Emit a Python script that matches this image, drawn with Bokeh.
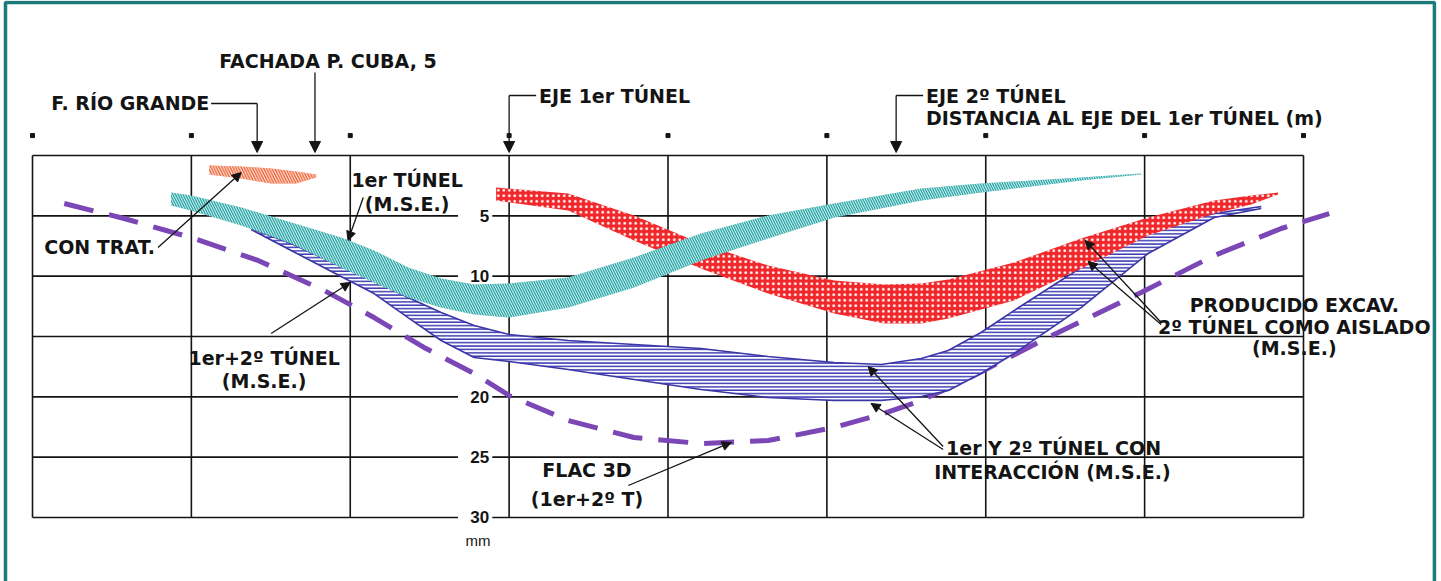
from bokeh.plotting import figure
from bokeh.models import Range1d, Arrow, NormalHead
from bokeh.core.properties import value
from bokeh.embed import file_html
from bokeh.resources import INLINE

# ---------------- data ----------------
# grid: distance to axis of 1st tunnel (m) and settlement (mm)
x_ticks = [-15, -10, -5, 0, 5, 10, 15, 20, 25]
y_ticks = [0, 5, 10, 15, 20, 25, 30]
y_tick_labels = ["", "5", "10", "15", "20", "25", "30"]

# CON TRAT. (treated building, orange)
trat_x = [-9.44, -8.43, -7.49, -6.70, -6.07]
trat_top = [0.83, 0.91, 1.08, 1.33, 1.57]
trat_bot = [1.57, 1.91, 2.32, 2.32, 1.82]

# 1er TUNEL (M.S.E.) teal band
t1_x = [-10.64, -10.01, -8.43, -6.86, -5.29, -4.25, -3.18, -2.14, -1.10, 0.0,
        1.86, 3.93, 6.04, 8.15, 10.23, 12.97, 14.85, 18.00, 19.89]
t1_top = [3.07, 3.31, 4.31, 5.55, 6.80, 7.87, 9.28, 10.19, 10.69, 10.61,
          10.11, 8.45, 6.46, 4.97, 3.98, 2.73, 2.32, 1.82, 1.49]
t1_bot = [4.14, 4.56, 5.80, 7.29, 9.28, 10.52, 11.77, 12.60, 13.18, 13.43,
          12.60, 10.94, 8.70, 6.88, 5.14, 3.73, 3.07, 2.07, 1.57]

# 1er+2o TUNEL / con interaccion (M.S.E.) blue band
t12_x = [-8.12, -6.86, -5.29, -4.25, -3.18, -2.14, -1.10, 0.0, 1.86, 3.93, 6.04,
         8.15, 10.23, 11.71, 12.97, 13.82, 14.85, 15.89, 18.00, 20.11, 22.19, 23.67]
t12_top = [6.05, 7.29, 9.20, 10.36, 11.77, 13.01, 14.09, 14.83, 15.33, 15.66, 16.00,
           16.66, 17.15, 17.32, 16.82, 16.16, 14.67, 12.85, 9.28, 6.22, 4.81, 4.23]
t12_bot = [6.13, 7.87, 10.03, 11.44, 13.43, 15.33, 16.74, 17.07, 17.73, 18.56, 19.39,
           20.06, 20.30, 20.30, 19.97, 19.48, 18.07, 16.41, 12.60, 8.12, 5.14, 4.39]

# 2o TUNEL como aislado (M.S.E.) red band
t2_x = [-0.41, 1.86, 3.93, 6.04, 8.15, 10.23, 11.80, 12.97, 13.82, 15.89,
        18.00, 20.11, 22.19, 23.35, 24.20]
t2_top = [2.65, 3.15, 4.97, 7.29, 9.12, 10.36, 10.69, 10.61, 10.28, 8.87,
          6.88, 5.14, 3.73, 3.31, 3.07]
t2_bot = [3.73, 4.56, 7.04, 9.36, 11.44, 13.09, 13.92, 13.92, 13.51, 12.02,
          9.36, 6.63, 4.81, 4.06, 3.23]

# FLAC 3D (1er+2o T) dashed purple
flac_x = [-14.00, -12.12, -10.01, -7.90, -5.82, -4.25, -2.68, -1.10, 0.0, 1.86, 3.93,
          6.04, 8.15, 10.23, 11.80, 12.97, 14.32, 16.96, 19.89, 22.19, 24.30, 25.81]
flac_y = [3.98, 5.22, 6.80, 8.70, 11.19, 13.43, 15.91, 18.07, 19.89, 21.96, 23.37,
          23.87, 23.62, 22.54, 21.38, 20.30, 18.65, 15.08, 11.35, 8.29, 6.05, 4.81]

# ---------------- figure ----------------
p = figure(width=1441, height=581,
           x_range=Range1d(-16.007, 29.343), y_range=Range1d(35.304, -12.845),
           min_border=0, x_axis_location=None, y_axis_location=None,
           toolbar_location=None, output_backend="svg",
           background_fill_color="white", border_fill_color="white",
           outline_line_color=None)
p.grid.visible = False

INK = "#141414"
LBL_FONT = value("DejaVu Sans")

# teal frame around the whole picture
p.quad(left=[-15.85], right=[29.12], top=[-12.67], bottom=[35.5],
       fill_color=None, line_color="#1f7a7c", line_width=3.5)

# grid lines (horizontal ones are broken where the mm labels sit)
gap_l, gap_r = -1.61, -0.53
hx0, hx1, hy = [], [], []
for yv in y_ticks:
    if yv == 0:
        hx0.append(x_ticks[0]); hx1.append(x_ticks[-1]); hy.append(yv)
    else:
        hx0 += [x_ticks[0], gap_r]; hx1 += [gap_l, x_ticks[-1]]; hy += [yv, yv]
p.segment(x0=hx0, y0=hy, x1=hx1, y1=hy, line_color=INK, line_width=1.6)
p.segment(x0=x_ticks, y0=[y_ticks[0]] * len(x_ticks), x1=x_ticks,
          y1=[y_ticks[-1]] * len(x_ticks), line_color=INK, line_width=1.6)

# tick dots above the grid
p.scatter(x=x_ticks, y=[-1.65] * len(x_ticks), marker="square", size=4,
          fill_color=INK, line_color=INK)

# mm labels
p.text(x=[-0.63] * len(y_ticks), y=y_ticks, text=y_tick_labels,
       text_font=value("Liberation Sans"), text_font_style="bold",
       text_font_size="17px", text_align="right", text_baseline="middle",
       text_color=INK)
p.text(x=[-0.98], y=[31.91], text=["mm"], text_font=value("Liberation Sans"),
       text_font_size="15px", text_align="center", text_baseline="middle",
       text_color=INK)

# FLAC 3D dashed curve
p.line(flac_x, flac_y, line_color="#7b47b6", line_width=5, line_dash="30 16")

# blue band
p.varea(x=t12_x, y1=t12_top, y2=t12_bot, fill_color="white",
        hatch_pattern="horizontal_line", hatch_color="#3d3db3",
        hatch_scale=3.4, hatch_weight=1.6)
p.line(t12_x, t12_top, line_color="#3b35a8", line_width=1.6)
p.line(t12_x, t12_bot, line_color="#3b35a8", line_width=1.6)

# red band
p.varea(x=t2_x, y1=t2_top, y2=t2_bot, fill_color="#f1282b",
        hatch_pattern="dot", hatch_color="white", hatch_scale=5.5, hatch_weight=1)

# teal band
p.varea(x=t1_x, y1=t1_top, y2=t1_bot, fill_color="#26a6a6",
        hatch_pattern="left_diagonal_line", hatch_color="white",
        hatch_scale=5, hatch_weight=0.9)

# orange band
p.varea(x=trat_x, y1=trat_top, y2=trat_bot, fill_color="#ee5f30",
        hatch_pattern="left_diagonal_line", hatch_color="white",
        hatch_scale=5.5, hatch_weight=1.0)

# ---------------- annotations ----------------
def arrow(x0, y0, x1, y1, size=10):
    p.add_layout(Arrow(end=NormalHead(size=size, fill_color=INK, line_color=INK),
                       x_start=x0, y_start=y0, x_end=x1, y_end=y1,
                       line_color=INK, line_width=1.3))

# leader lines
p.line([-9.38, -7.93], [-4.31, -4.31], line_color=INK, line_width=1.5)
p.line([0.85, 0.0], [-4.97, -4.97], line_color=INK, line_width=1.5)
p.line([13.03, 12.18], [-4.97, -4.97], line_color=INK, line_width=1.5)
arrow(-7.93, -4.31, -7.93, -0.25, 11)
arrow(-6.11, -6.88, -6.11, -0.25, 11)
arrow(0.0, -4.97, 0.0, -0.25, 11)
arrow(12.18, -4.97, 12.18, -0.25, 11)
arrow(-4.59, 3.48, -5.07, 7.04, 9)
arrow(-11.05, 7.62, -8.43, 1.41, 9)
arrow(-7.49, 14.75, -5.00, 10.52, 9)
arrow(3.75, 27.35, 6.99, 23.78, 9)
arrow(13.66, 24.12, 11.30, 17.49, 9)
arrow(13.66, 24.37, 11.39, 20.55, 9)
arrow(20.52, 13.84, 18.13, 7.04, 9)
arrow(20.52, 14.00, 18.22, 8.78, 9)

def label(xs, ys, texts, align, size="19px"):
    p.text(x=xs, y=ys, text=texts, text_font=LBL_FONT, text_font_style="bold",
           text_font_size=size, text_align=align, text_baseline="middle",
           text_color=INK)

label([-14.41, 0.94, 13.12, 13.12, -14.63, 13.75, 13.38],
      [-4.39, -4.97, -4.97, -3.07, 7.62, 24.20, 26.19],
      ["F. RÍO GRANDE", "EJE 1er TÚNEL", "EJE 2º TÚNEL",
       "DISTANCIA AL EJE DEL 1er TÚNEL (m)", "CON TRAT.",
       "1er Y 2º TÚNEL CON", "INTERACCIÓN (M.S.E.)"], "left")
label([-5.70, -3.21, -3.21, -7.71, -7.71, 2.45, 2.45, 24.71, 24.71, 24.71],
      [-7.87, 2.07, 3.98, 16.82, 18.65, 26.10, 28.43, 12.43, 14.25, 15.99],
      ["FACHADA P. CUBA, 5", "1er TÚNEL", "(M.S.E.)", "1er+2º TÚNEL", "(M.S.E.)",
       "FLAC 3D", "(1er+2º T)", "PRODUCIDO EXCAV.", "2º TÚNEL COMO AISLADO",
       "(M.S.E.)"], "center")

open("out.html", "w").write(file_html(p, INLINE))
